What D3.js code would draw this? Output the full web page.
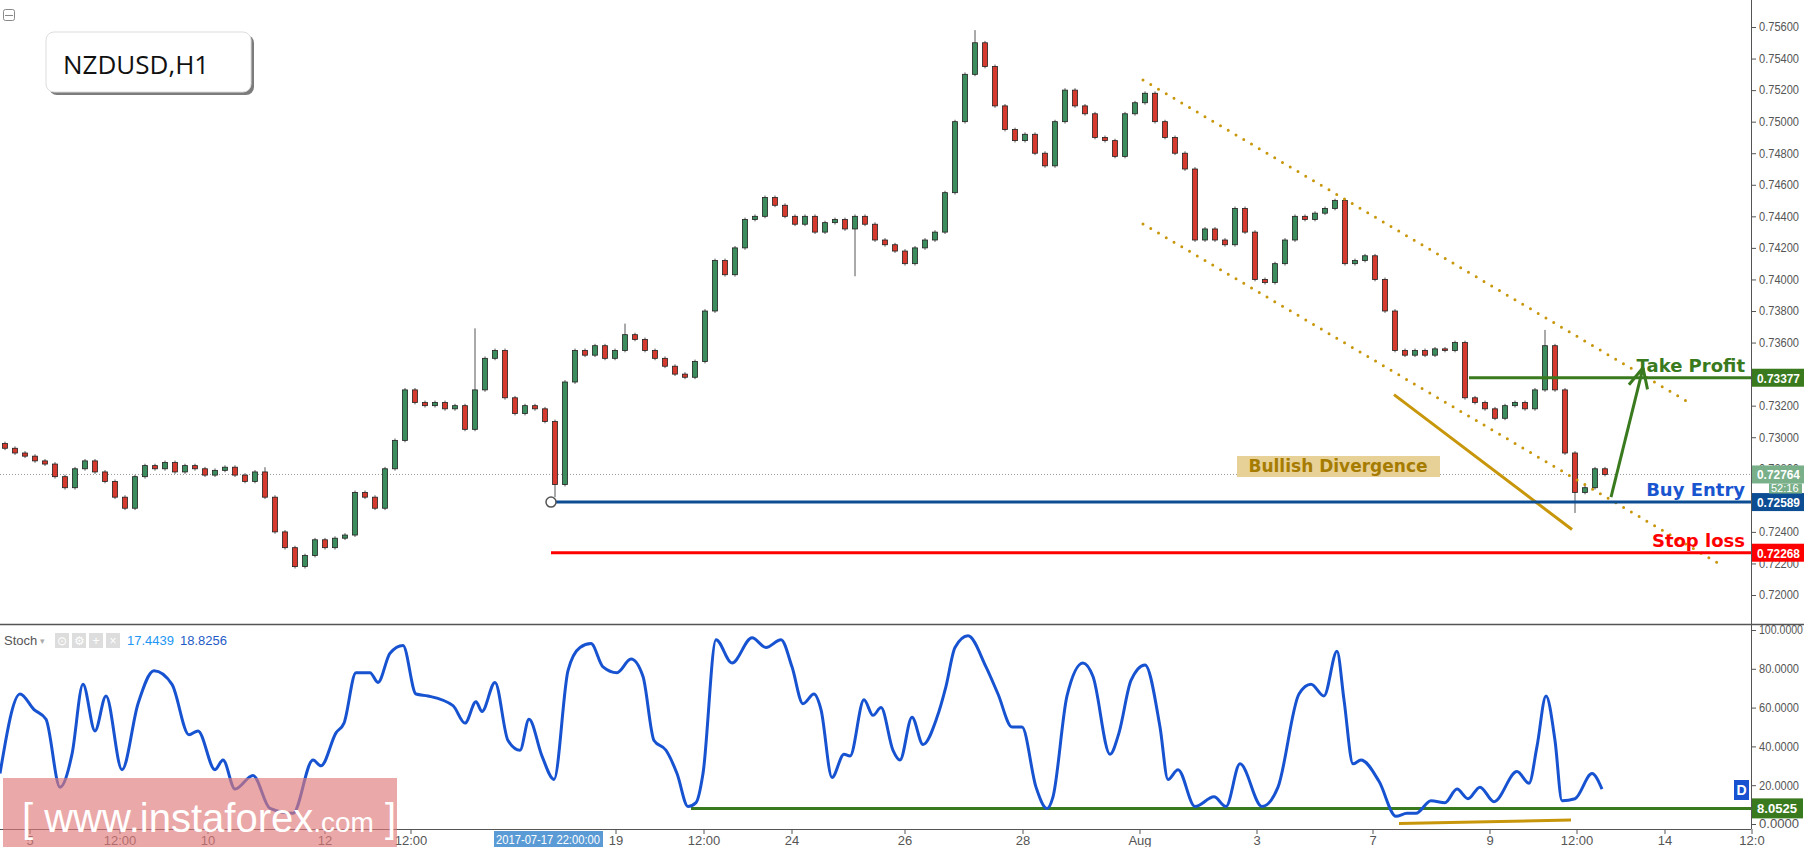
<!DOCTYPE html>
<html><head><meta charset="utf-8">
<script src="https://cdn.jsdelivr.net/npm/d3@7"></script>
<style>body{margin:0;background:#fff}svg{display:block;font-family:"Liberation Sans",Arial,sans-serif}</style>
</head><body><svg id="c" width="1804" height="847"></svg>
<script>
const closes=[0.7293,0.7290,0.7288,0.7285,0.7283,0.7275,0.7268,0.7280,0.7285,0.7278,
0.7272,0.7262,0.7255,0.7275,0.7282,0.7280,0.7284,0.7278,0.7282,0.7280,
0.7276,0.7279,0.7281,0.7276,0.7272,0.7278,0.7262,0.7240,0.7230,0.7218,
0.7225,0.7235,0.7230,0.7236,0.7238,0.7265,0.7262,0.7255,0.7280,0.7298,
0.7330,0.7322,0.7320,0.7322,0.7318,0.7320,0.7305,0.7330,0.7350,0.7355,
0.7325,0.7315,0.7320,0.7318,0.7310,0.7270,0.7335,0.7355,0.7352,0.7358,
0.7350,0.7355,0.7365,0.7362,0.7355,0.7350,0.7345,0.7340,0.7338,0.7348,
0.7380,0.7412,0.7403,0.7420,0.7438,0.7440,0.7452,0.7447,0.7440,0.7435,
0.7440,0.7430,0.7436,0.7438,0.7432,0.7440,0.7435,0.7425,0.7422,0.7418,
0.7410,0.7420,0.7425,0.7430,0.7455,0.7500,0.7530,0.7550,0.7535,0.7510,
0.7495,0.7488,0.7492,0.7480,0.7472,0.7500,0.7520,0.7510,0.7505,0.7490,
0.7488,0.7478,0.7505,0.7512,0.7518,0.7500,0.7490,0.7480,0.7470,0.7425,
0.7432,0.7425,0.7422,0.7445,0.7430,0.7400,0.7398,0.7410,0.7425,0.7440,
0.7438,0.7442,0.7445,0.7450,0.7410,0.7412,0.7415,0.7400,0.7380,0.7355,
0.7352,0.7355,0.7352,0.7356,0.7355,0.7360,0.7325,0.7322,0.7318,0.7312,
0.7320,0.7322,0.7318,0.7330,0.7358,0.7330,0.7290,0.7265,0.7268,0.7280,0.72764];
const firstOpen=0.7296;
const wickSize=0.00012;
const spikes=[[47,0.7369,null],[55,null,0.7262],[85,null,0.7402],[97,0.7558,null],[154,0.7368,null],[157,null,0.7252],[26,0.7281,null],[62,0.7372,null]];
const stochX=[0,20,34,46,60,72,83,95,106,122,138,154,172,189,198,215,223,235,253,270,293,313,321,336,344,356,370,378,390,403,416,428,453,465,476,482,495,508,520,529,542,554,568,580,591,603,617,631,643,654,666,677,688,696,703,716,732,752,766,781,792,803,814,821,832,844,850,864,873,881,893,900,912,923,937,946,955,968,986,998,1012,1022,1036,1047,1053,1067,1083,1093,1110,1119,1131,1145,1160,1168,1178,1195,1214,1226,1240,1262,1278,1299,1311,1324,1337,1344,1353,1361,1379,1396,1407,1416,1431,1445,1457,1468,1480,1494,1517,1529,1537,1546,1555,1562,1575,1592,1602];
const stochV=[26,67,59,54,19,36,72,48,66,28,62,79,72,46,48,28,33,18,25,8,5.5,33,30,47,52,78,78,73,88,92,67,66,61,52,63,58,73,43,38,54,35,23,79,91,93,81,78,85,76,43,38,26,9,11,26,95,83,96,91,95,81,62,67,59,24,36,35,64,56,60,38,33,55,41,55,71,91,97,81,67,50,50,19,8,14,66,83,76,36,47,74,82,50,23,28,9,14,9,31,9,19,67,72,66,89,64,31,33,22,4,5.5,5.5,12,11,18,13,19,11.5,27,21,40,66,43,12,13,26,18];
const priceTicks=d3.range(0.720,0.75601,0.002);
const stochTicks=[0,20,40,60,80,100];
const timeLabels=[[2.5,"5"],[11.5,"12:00"],[20.3,"10"],[32,"12"],[40.6,"12:00"],[61.1,"19"],[69.9,"12:00"],[78.7,"24"],[90,"26"],[101.8,"28"],[113.5,"Aug"],[125.2,"3"],[136.8,"7"],[148.5,"9"],[157.2,"12:00"],[166,"14"],[174.7,"12:0"]];
const levels={tp:0.73377,entry:0.72589,stop:0.72268,cur:0.72764,stochLow:8.0525};
const upperCh=[[113.8,0.75264],[168.4,0.73220]];
const lowerCh=[[113.8,0.74352],[171.3,0.72202]];
const goldLine=[[138.9,0.73270],[156.7,0.72415]];
const arrow=[[160.6,0.72621],[163.8,0.73440]];
const stochGold=[[139.4,0.3],[156.6,2.0]];

const svg=d3.select("#c");
const AX=1751;
const x=d3.scaleLinear().domain([0,160]).range([5,1605]);
const y=d3.scaleLinear().domain([0.720,0.756]).range([595,27]);
const ys=d3.scaleLinear().domain([0,100]).range([824,630]);

svg.append("line").attr("x1",AX+0.5).attr("x2",AX+0.5).attr("y1",0).attr("y2",829).attr("stroke","#555");
svg.append("line").attr("x1",0).attr("x2",1804).attr("y1",624.5).attr("y2",624.5).attr("stroke","#555").attr("stroke-width",1.5);
svg.append("line").attr("x1",0).attr("x2",AX).attr("y1",829.5).attr("y2",829.5).attr("stroke","#555");
svg.append("rect").attr("x",3.5).attr("y",9.5).attr("width",11).attr("height",11).attr("rx",2).attr("fill","none").attr("stroke","#888");
svg.append("line").attr("x1",5).attr("x2",13).attr("y1",15.5).attr("y2",15.5).attr("stroke","#888");

const pa=svg.append("g").attr("transform",`translate(${AX},0)`).call(d3.axisRight(y).tickValues(priceTicks).tickSize(5).tickFormat(d3.format(".5f")));
pa.select(".domain").remove();
pa.selectAll("text").attr("fill","#555").attr("font-size",12).attr("x",8).attr("textLength",40).attr("lengthAdjust","spacingAndGlyphs");
pa.selectAll("line").attr("stroke","#555");
const sa=svg.append("g").attr("transform",`translate(${AX},0)`).call(d3.axisRight(ys).tickValues(stochTicks).tickSize(5).tickFormat(d3.format(".4f")));
sa.select(".domain").remove();
sa.selectAll("text").attr("fill","#555").attr("font-size",12).attr("x",8).attr("textLength",d=>d===100?44:40).attr("lengthAdjust","spacingAndGlyphs");
sa.selectAll("line").attr("stroke","#555");
const ta=svg.append("g");
timeLabels.forEach(([i,t])=>{
  ta.append("line").attr("x1",x(i)).attr("x2",x(i)).attr("y1",829).attr("y2",834).attr("stroke","#555");
  ta.append("text").attr("x",x(i)).attr("y",845).attr("text-anchor","middle").attr("font-size",13).attr("fill","#555").text(t);
});

svg.append("line").attr("x1",0).attr("x2",AX).attr("y1",y(levels.cur)).attr("y2",y(levels.cur)).attr("stroke","#999").attr("stroke-dasharray","1,2");

const candles=closes.map((c,i)=>{const o=i?closes[i-1]:firstOpen;return {i,o,c,h:Math.max(o,c)+wickSize,l:Math.min(o,c)-wickSize};});
spikes.forEach(([i,h,l])=>{if(h!==null)candles[i].h=h;if(l!==null)candles[i].l=l;});
const cg=svg.append("g");
candles.forEach(d=>{
  const up=d.c>=d.o;
  cg.append("line").attr("x1",x(d.i)).attr("x2",x(d.i)).attr("y1",y(d.h)).attr("y2",y(d.l)).attr("stroke","#555");
  const top=y(Math.max(d.o,d.c)),bot=y(Math.min(d.o,d.c));
  cg.append("rect").attr("x",x(d.i)-2.5).attr("width",5).attr("y",top).attr("height",Math.max(1,bot-top))
   .attr("fill",up?"#3b8d5e":"#d63a2f").attr("stroke","#222").attr("stroke-width",0.8);
});

[upperCh,lowerCh].forEach(p=>{
  svg.append("line").attr("x1",x(p[0][0])).attr("y1",y(p[0][1])).attr("x2",x(p[1][0])).attr("y2",y(p[1][1]))
   .attr("stroke","#c8960a").attr("stroke-width",3).attr("stroke-dasharray","0,9").attr("stroke-linecap","round");
});
svg.append("line").attr("x1",x(goldLine[0][0])).attr("y1",y(goldLine[0][1])).attr("x2",x(goldLine[1][0])).attr("y2",y(goldLine[1][1]))
 .attr("stroke","#c8960a").attr("stroke-width",3);

function priceBox(v,color,yy,fmt){
  svg.append("rect").attr("x",AX+1).attr("y",yy-9).attr("width",53).attr("height",18).attr("fill",color);
  svg.append("text").attr("x",AX+6).attr("y",yy+5).attr("font-size",12).attr("fill","#fff").attr("font-weight","bold")
   .attr("textLength",43).attr("lengthAdjust","spacingAndGlyphs").text(fmt(v));
}
function level(v,x0,color,lblColor,text){
  svg.append("line").attr("x1",x0).attr("x2",AX).attr("y1",y(v)).attr("y2",y(v)).attr("stroke",color).attr("stroke-width",3);
  priceBox(v,color,y(v),d3.format(".5f"));
  svg.append("text").attr("x",AX-6).attr("y",y(v)-6).attr("text-anchor","end").attr("font-size",18).attr("font-weight","bold").attr("fill",lblColor)
   .attr("font-family","DejaVu Sans").text(text);
}
level(levels.tp,x(146.4),"#3a7a1e","#3a7a1e","Take Profit");
level(levels.entry,x(54.6),"#0d4d94","#1a55d0","Buy Entry");
level(levels.stop,x(54.6),"#ff0000","#ff0000","Stop loss");
svg.append("circle").attr("cx",x(54.6)).attr("cy",y(levels.entry)).attr("r",5).attr("fill","#fff").attr("stroke","#555").attr("stroke-width",1.5);
priceBox(levels.cur,"#79b08a",y(levels.cur),d3.format(".5f"));
svg.append("rect").attr("x",AX+18).attr("y",y(levels.cur)+9).attr("width",33).attr("height",10).attr("fill","#79b08a");
svg.append("text").attr("x",AX+20).attr("y",y(levels.cur)+18).attr("font-size",11).attr("fill","#fff").text("52:16");

const ax0=x(arrow[0][0]),ay0=y(arrow[0][1]),ax1=x(arrow[1][0]),ay1=y(arrow[1][1]);
svg.append("line").attr("x1",ax0).attr("y1",ay0).attr("x2",ax1).attr("y2",ay1).attr("stroke","#3a7a1e").attr("stroke-width",3);
const ang=Math.atan2(ay0-ay1,ax0-ax1);
[0.45,-0.45].forEach(da=>{svg.append("line").attr("x1",ax1).attr("y1",ay1).attr("x2",ax1+22*Math.cos(ang+da)).attr("y2",ay1+22*Math.sin(ang+da)).attr("stroke","#3a7a1e").attr("stroke-width",3);});

svg.append("rect").attr("x",1237).attr("y",456).attr("width",203).attr("height",21).attr("fill","#e8d196");
svg.append("text").attr("x",1338).attr("y",472).attr("text-anchor","middle").attr("font-size",17).attr("font-weight","bold").attr("fill","#a67c00").attr("font-family","DejaVu Sans").text("Bullish Divergence");

const tb=svg.append("g");
tb.append("rect").attr("x",49).attr("y",35).attr("width",205).attr("height",60).attr("rx",8).attr("fill","#444").attr("opacity",0.7);
tb.append("rect").attr("x",46).attr("y",32).attr("width",205).attr("height",60).attr("rx",8).attr("fill","#fff").attr("stroke","#ddd");
tb.append("text").attr("x",63).attr("y",74).attr("font-size",26).attr("fill","#111").attr("font-family","Open Sans").text("NZDUSD,H1");

svg.append("line").attr("x1",x(68.6)).attr("x2",AX).attr("y1",ys(levels.stochLow)).attr("y2",ys(levels.stochLow)).attr("stroke","#3a7a1e").attr("stroke-width",3);
svg.append("rect").attr("x",AX+1).attr("y",ys(levels.stochLow)-10).attr("width",51).attr("height",20).attr("fill","#3a7a1e");
svg.append("text").attr("x",AX+6).attr("y",ys(levels.stochLow)+5).attr("font-size",12).attr("fill","#fff").attr("font-weight","bold").attr("textLength",40).attr("lengthAdjust","spacingAndGlyphs").text(d3.format(".4f")(levels.stochLow));
svg.append("path").datum(stochX.map((sx,k)=>[sx/10,stochV[k]])).attr("fill","none").attr("stroke","#1753d1").attr("stroke-width",3)
 .attr("d",d3.line().x(d=>x(d[0])-5).y(d=>ys(d[1])).curve(d3.curveMonotoneX));
svg.append("line").attr("x1",x(stochGold[0][0])).attr("y1",ys(stochGold[0][1])).attr("x2",x(stochGold[1][0])).attr("y2",ys(stochGold[1][1])).attr("stroke","#c8960a").attr("stroke-width",3);
svg.append("rect").attr("x",1734).attr("y",780).attr("width",15).attr("height",20).attr("fill","#1753d1");
svg.append("text").attr("x",1741.5).attr("y",795).attr("text-anchor","middle").attr("font-size",14).attr("font-weight","bold").attr("fill","#fff").text("D");

svg.append("text").attr("x",4).attr("y",645).attr("font-size",13).attr("fill","#555").text("Stoch");
svg.append("text").attr("x",40).attr("y",644).attr("font-size",9).attr("fill","#aaa").text("▾");
["⊙","⚙","+","×"].forEach((s,k)=>{const ix=55+k*17;
 svg.append("rect").attr("x",ix).attr("y",633).attr("width",14).attr("height",15).attr("fill","#ddd");
 svg.append("text").attr("x",ix+7).attr("y",645).attr("text-anchor","middle").attr("font-size",12).attr("fill","#fff").text(s);});
svg.append("text").attr("x",127).attr("y",645).attr("font-size",13).attr("fill","#2196f3").text("17.4439");
svg.append("text").attr("x",180).attr("y",645).attr("font-size",13).attr("fill","#1e5bc6").text("18.8256");

svg.append("rect").attr("x",3).attr("y",778).attr("width",394).attr("height",69).attr("fill","#e07a7a").attr("opacity",0.65);
const wt=svg.append("text").attr("x",22).attr("y",832).attr("fill","#fff").attr("font-family","Liberation Sans Narrow, Liberation Sans").attr("font-size",40);
wt.append("tspan").text("[  www.instaforex");
wt.append("tspan").attr("font-size",28).text(".com");
wt.append("tspan").text(" ]");
svg.append("rect").attr("x",494).attr("y",831).attr("width",109).attr("height",16).attr("fill","#5b9bd5");
svg.append("text").attr("x",548).attr("y",844).attr("text-anchor","middle").attr("font-size",12).attr("fill","#fff").attr("textLength",104).attr("lengthAdjust","spacingAndGlyphs").text("2017-07-17 22:00:00");
</script></body></html>
